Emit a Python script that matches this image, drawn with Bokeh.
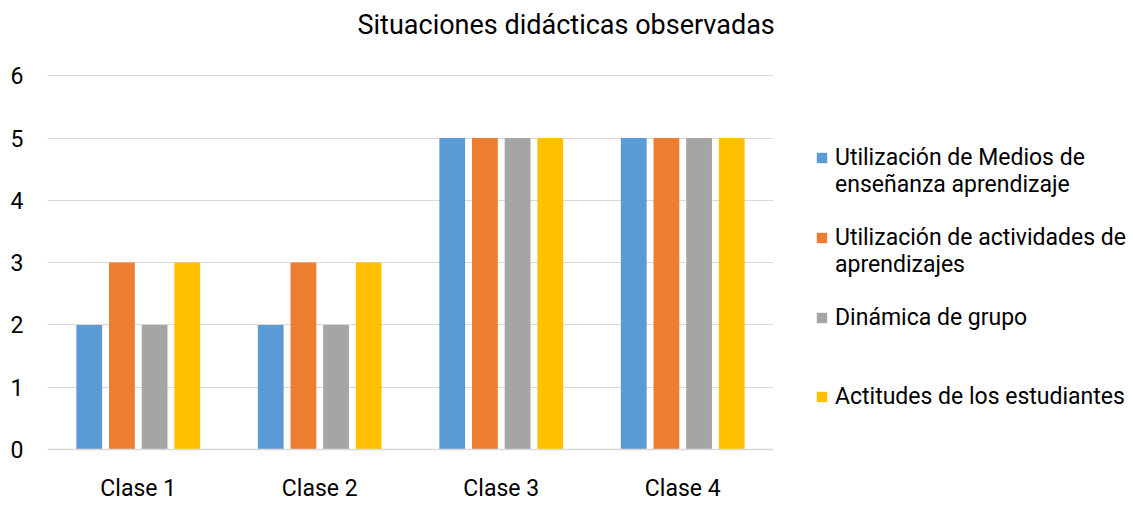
from bokeh.plotting import figure
from bokeh.models import FactorRange, Range1d, Legend, LegendItem, ColumnDataSource, FixedTicker, Title
from bokeh.transform import dodge
from bokeh.embed import file_html
from bokeh.resources import INLINE

categories = ["Clase 1", "Clase 2", "Clase 3", "Clase 4"]
series_labels = [
    ["Utilización de Medios de", "enseñanza aprendizaje"],
    ["Utilización de actividades de", "aprendizajes"],
    ["Dinámica de grupo"],
    ["Actitudes de los estudiantes"],
]
medios = [2, 2, 5, 5]
actividades = [3, 3, 5, 5]
dinamica = [2, 2, 5, 5]
actitudes = [3, 3, 5, 5]
colors = ["#5B9BD5", "#ED7D31", "#A5A5A5", "#FFC000"]
y_ticks = [0, 1, 2, 3, 4, 5, 6]
title_text = "Situaciones didácticas observadas"

FONT = "Roboto"
TXT = "#000000"
GRID = "#D9D9D9"

source = ColumnDataSource(dict(cat=categories, s0=medios, s1=actividades, s2=dinamica, s3=actitudes))

p = figure(
    x_range=FactorRange(*categories, range_padding=0),
    y_range=Range1d(0, 6.02),
    frame_width=726, frame_height=375,
    min_border_left=47, min_border_top=74, min_border_bottom=57, min_border_right=10,
    output_backend="svg", toolbar_location=None,
)
p.title = None

offsets = [-0.27, -0.09, 0.09, 0.27]
renderers = []
for i, col in enumerate(["s0", "s1", "s2", "s3"]):
    r = p.vbar(x=dodge("cat", offsets[i], range=p.x_range), top=col, width=0.142,
               source=source, fill_color=colors[i], line_color=None)
    renderers.append(r)

# invisible renderer used for continuation / spacer rows of the legend
blank = p.vbar(x=[], top=[], width=0.1, fill_alpha=0, line_alpha=0)

# title: an empty second line makes the title panel taller, lifting the text
main_title = Title(
    text=title_text + "\n", align="left", offset=310, vertical_align="top", standoff=0,
    text_font=FONT, text_font_size="27px", text_font_style="normal", text_color=TXT,
    text_line_height=1.0,
)
p.add_layout(main_title, "above")

p.outline_line_color = None
p.xgrid.grid_line_color = None
p.ygrid.grid_line_color = GRID
p.ygrid.grid_line_width = 1

p.yaxis.ticker = FixedTicker(ticks=y_ticks)
p.yaxis.axis_line_color = None
p.yaxis.major_tick_line_color = None
p.yaxis.minor_tick_line_color = None
p.yaxis.major_tick_out = 0
p.yaxis.major_label_standoff = 24
p.yaxis.major_label_text_font = FONT
p.yaxis.major_label_text_font_size = "23px"
p.yaxis.major_label_text_color = TXT

p.xaxis.axis_line_color = GRID
p.xaxis.axis_line_width = 1.5
p.xaxis.major_tick_line_color = None
p.xaxis.minor_tick_line_color = None
p.xaxis.major_tick_out = 0
p.xaxis.major_label_standoff = 25
p.xaxis.major_label_text_font = FONT
p.xaxis.major_label_text_font_size = "23px"
p.xaxis.major_label_text_color = TXT

# legend rows: (label, renderer)
rows = [
    (series_labels[0][0], renderers[0]), (series_labels[0][1], blank), (" ", blank),
    (series_labels[1][0], renderers[1]), (series_labels[1][1], blank), (" ", blank),
    (series_labels[2][0], renderers[2]), (" ", blank), (" ", blank),
    (series_labels[3][0], renderers[3]),
]
legend = Legend(
    items=[LegendItem(label=lab, renderers=[r]) for lab, r in rows],
    location=(42, 39), margin=0, padding=0, spacing=0,
    glyph_width=13, glyph_height=13, label_standoff=7, label_height=26,
    label_text_font=FONT, label_text_font_size="23px", label_text_color=TXT,
    label_text_line_height=1.0,
    border_line_color=None, background_fill_alpha=0,
)
p.add_layout(legend, "right")

open("out.html", "w").write(file_html(p, INLINE))
